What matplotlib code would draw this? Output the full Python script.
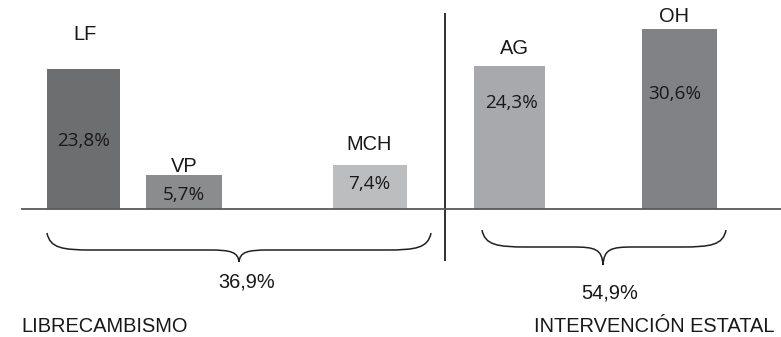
import matplotlib
matplotlib.use("Agg")
import matplotlib.pyplot as plt
from matplotlib.path import Path
from matplotlib.patches import PathPatch

# ---- data ----
categories = ["LF", "VP", "MCH", "AG", "OH"]
values = [23.8, 5.7, 7.4, 24.3, 30.6]
value_labels = ["23,8%", "5,7%", "7,4%", "24,3%", "30,6%"]
group_names = ["LIBRECAMBISMO", "INTERVENCIÓN ESTATAL"]
group_totals = ["36,9%", "54,9%"]
colors = ["#6d6e70", "#8b8c8e", "#bcbdbf", "#a7a9ac", "#808285"]

# ---- layout (pixel based) ----
W, H = 781, 337
BASE = 209.0          # baseline pixel row
SCALE = 5.88          # pixels per percent
bar_left = [47, 146, 333, 474, 642]
bar_width = [73, 76, 74, 71, 75]
cat_label_xy = [(85, 35), (184, 166), (369, 144), (514, 48), (674, 17)]
val_label_xy = [(84, 141), (184, 195), (369, 184), (512, 103), (675, 94)]

def yd(py):
    return (BASE - py) / SCALE

fig = plt.figure(figsize=(W / 100, H / 100), dpi=100)
ax = fig.add_axes([0, 0, 1, 1])
ax.set_xlim(0, W)
ax.set_ylim(yd(H), yd(0))
ax.axis("off")

ax.bar(bar_left, values, width=bar_width, align="edge", color=colors,
       linewidth=0, zorder=2)

txt = "#1a1718"
FS = 14.4
for (x, y), c in zip(cat_label_xy, categories):
    ax.text(x, yd(y), c, ha="center", va="center", fontsize=FS,
            family="Liberation Sans", color=txt)
for (x, y), v in zip(val_label_xy, value_labels):
    ax.text(x, yd(y), v, ha="center", va="center", fontsize=13.6,
            family="Open Sans", color=txt)

# baseline
ax.plot([21, W], [0, 0], color="#58595b", lw=1.3, zorder=3,
        solid_capstyle="butt")
# separator
ax.plot([445, 445], [yd(13), yd(261)], color="#231f20", lw=1.3,
        solid_capstyle="butt")


def brace(x0, x1, ytop, yflat, ytip, xc):
    pts = [
        (x0, ytop),
        (x0 + 3, yflat - 2), (x0 + 15, yflat), (x0 + 45, yflat),
        (xc - 30, yflat),
        (xc - 8, yflat), (xc - 1, yflat + 2), (xc, ytip),
        (xc + 1, yflat + 2), (xc + 8, yflat), (xc + 30, yflat),
        (x1 - 45, yflat),
        (x1 - 15, yflat), (x1 - 3, yflat - 2), (x1, ytop),
    ]
    codes = [Path.MOVETO,
             Path.CURVE4, Path.CURVE4, Path.CURVE4,
             Path.LINETO,
             Path.CURVE4, Path.CURVE4, Path.CURVE4,
             Path.CURVE4, Path.CURVE4, Path.CURVE4,
             Path.LINETO,
             Path.CURVE4, Path.CURVE4, Path.CURVE4]
    verts = [(px, yd(py)) for px, py in pts]
    ax.add_patch(PathPatch(Path(verts, codes), fill=False,
                           edgecolor="#231f20", lw=1.1))

brace(47, 431, 233, 250, 262, 239)
brace(482, 726, 230, 247, 265, 603)

ax.text(247, yd(282), group_totals[0], ha="center", va="center",
        fontsize=FS, family="Liberation Sans", color=txt)
ax.text(610, yd(293), group_totals[1], ha="center", va="center",
        fontsize=FS, family="Liberation Sans", color=txt)
ax.text(21, yd(327), group_names[0], ha="left", va="center",
        fontsize=FS, family="Liberation Sans", color=txt)
ax.text(775, yd(327), group_names[1], ha="right", va="center",
        fontsize=FS, family="Liberation Sans", color=txt)

fig.savefig("out.png", dpi=100)
